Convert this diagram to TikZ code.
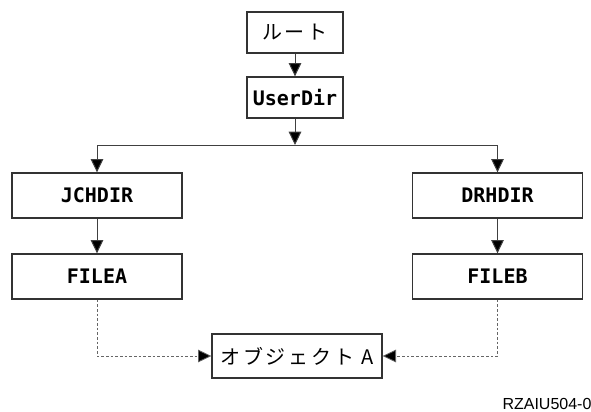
\documentclass[tikz,border=0pt]{standalone}
\usepackage{fontspec}
\newfontfamily\jpfont[LetterSpace=14]{Noto Sans CJK JP}
\newfontfamily\dirfont[BoldFont={DejaVu Sans Mono Bold}]{DejaVu Sans Mono}
\setsansfont{Liberation Sans}
\usetikzlibrary{arrows.meta}
\tikzset{every picture/.style={line width=0.75pt}}

\begin{document}
\begin{tikzpicture}[x=0.75pt,y=0.75pt,yscale=-1,xscale=1,
  dirbox/.style={draw=black!80, line width=1pt, inner sep=0pt, minimum width=127.5pt, minimum height=33.75pt, font=\dirfont\bfseries\fontsize{15}{17}\selectfont},
  topbox/.style={draw=black!80, line width=1pt, inner sep=0pt, minimum width=72pt, minimum height=30.75pt},
  arr/.style={draw=black!75, -{Triangle[length=10pt,width=9.5pt,fill=black]}},
  darr/.style={draw=black!60, line width=0.6pt, dash pattern=on 2pt off 1.5pt, -{Triangle[length=10pt,width=9.5pt,fill=black]}}]
\useasboundingbox (0,0) rectangle (591,411);

\node [topbox] (root) at (295,32.5) {\jpfont\fontsize{15}{17}\selectfont ルート};
\node [topbox, font=\dirfont\bfseries\fontsize{15}{17}\selectfont] (userdir) at (295,97.5) {UserDir};
\coordinate (split) at (295,145);

\node [dirbox] (jchdir) at (97,195.5) {JCHDIR};
\node [dirbox] (drhdir) at (497.5,195.5) {DRHDIR};
\node [dirbox] (filea) at (97,276.5) {FILEA};
\node [dirbox] (fileb) at (497.5,276.5) {FILEB};
\node [dirbox, minimum height=33pt, font=\jpfont\fontsize{15}{17}\selectfont] (obja) at (297,356) {オブジェクト A};

\draw [arr] (root) -- (userdir);
\draw [arr] (userdir) -- (split);
\draw [arr] (split) -| (jchdir);
\draw [arr] (split) -| (drhdir);
\draw [arr] (jchdir) -- (filea);
\draw [arr] (drhdir) -- (fileb);
\draw [darr] (filea) |- (obja);
\draw [darr] (fileb) |- (obja);

\node [anchor=base west, inner sep=0pt, font=\sffamily\fontsize{12}{14}\selectfont] (figid) at (502,409) {RZAIU504-0};
\end{tikzpicture}
\end{document}
